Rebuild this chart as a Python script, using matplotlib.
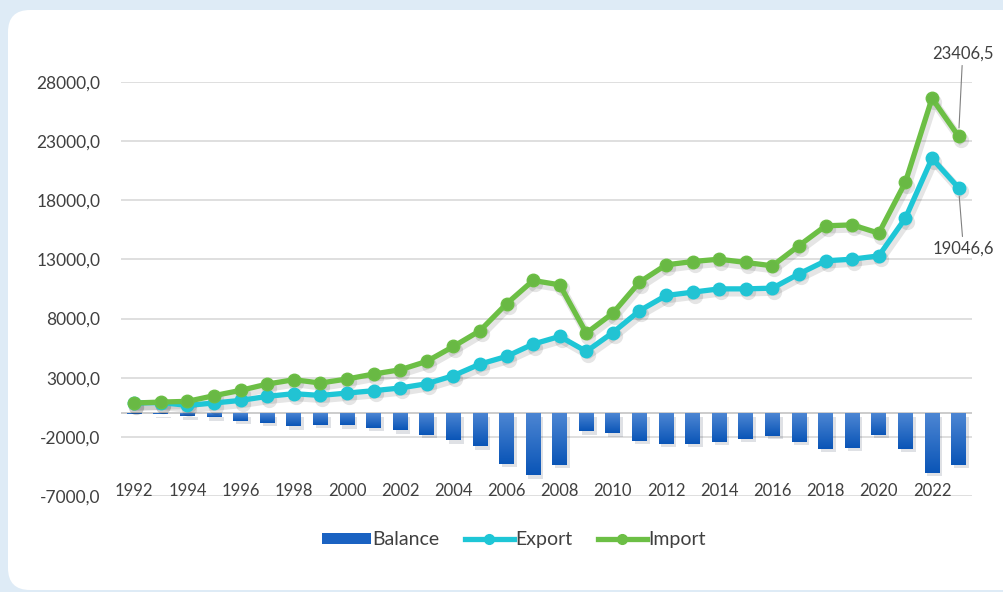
import numpy as np
import matplotlib
matplotlib.use("Agg")
import matplotlib.pyplot as plt
import matplotlib.patheffects as pe
from matplotlib.patches import FancyBboxPatch, Patch
from matplotlib.lines import Line2D
from matplotlib.transforms import offset_copy

years = list(range(1992, 2024))

export_vals = [860, 900, 660, 860, 1080, 1420, 1650, 1500, 1700, 1900,
               2130, 2490, 3170, 4150, 4800, 5840, 6490, 5220, 6820, 8660,
               9950, 10230, 10510, 10510, 10570, 11780, 12880, 13020, 13300, 16490,
               21550, 19046.6]

import_vals = [860, 940, 1000, 1480, 1930, 2460, 2830, 2550, 2890, 3310,
               3670, 4380, 5640, 6970, 9250, 11220, 10850, 6770, 8460, 11080,
               12540, 12820, 13020, 12740, 12460, 14170, 15840, 15920, 15220, 19530,
               26620, 23406.5]

balance_vals = [-50, -80, -250, -330, -630, -830, -1110, -970, -1030, -1250,
                -1450, -1820, -2290, -2800, -4290, -5250, -4380, -1530, -1680, -2320,
                -2580, -2580, -2430, -2150, -1900, -2430, -3000, -2940, -1820, -3000,
                -5050, -4360]

y_ticks = list(range(-7000, 28001, 5000))

plt.rcParams['font.family'] = ['Lato', 'DejaVu Sans']
txt_color = '#404040'

fig = plt.figure(figsize=(10.04, 5.92), dpi=100)
fig.patch.set_facecolor('#deebf6')
card = FancyBboxPatch((0.08, 0.02), 10.5, 5.80,
                      boxstyle="round,pad=0,rounding_size=0.22",
                      transform=fig.dpi_scale_trans, facecolor='white',
                      edgecolor='none', zorder=-5)
fig.patches.append(card)

ax = fig.add_axes([0.1205, 0.1622, 0.8475, 0.6993])
ax.set_facecolor('none')

x = np.arange(len(years))

# gridlines + zero line
for v in y_ticks:
    ax.axhline(v, color='#d9d9d9', lw=1.2, zorder=0)
ax.axhline(0, color='#c4c4c4', lw=1.2, zorder=0)

# balance bars with vertical gradient
bars = ax.bar(x, balance_vals, width=0.56, color='#1a62c2', zorder=2,
              path_effects=[pe.SimplePatchShadow(offset=(2, -2.5), alpha=0.13),
                            pe.Normal()])
grad = np.linspace(0, 1, 100).reshape(-1, 1)
cmap = matplotlib.colors.LinearSegmentedColormap.from_list('b', ['#0a55b7', '#4d86d3'])
for b in bars:
    x0, y0 = b.get_x(), b.get_y()
    w, h = b.get_width(), b.get_height()
    im = ax.imshow(grad, extent=[x0, x0 + w, y0 + h, y0], origin='lower',
                   aspect='auto', cmap=cmap, zorder=2.1)
    im.set_clip_path(b)

# soft drop shadows under the lines
sh_tr = offset_copy(ax.transData, fig=fig, x=2, y=-3.5, units='dots')
for vals in (export_vals, import_vals):
    ax.plot(x, vals, color='k', alpha=0.10, lw=6, marker='o', ms=11, mew=0,
            transform=sh_tr, zorder=3)

ax.plot(x, export_vals, color='#1ec6d6', lw=3.8, marker='o', ms=9,
        mfc='#22c3d3', mec='#1ec6d6', zorder=4)
ax.plot(x, import_vals, color='#6cbf45', lw=3.8, marker='o', ms=9,
        mfc='#69b944', mec='#6cbf45', zorder=5)

ax.set_xlim(-0.5, len(years) - 0.5)
ax.set_ylim(-7000, 28000)
ax.set_yticks(y_ticks)
ax.set_yticklabels([f"{v:.1f}".replace('.', ',') for v in y_ticks],
                   fontsize=12.5, color=txt_color)
ax.tick_params(axis='y', length=0, pad=15)
ax.set_xticks([])
for s in ax.spines.values():
    s.set_visible(False)

# year labels sit on the bottom gridline
for i, yr in enumerate(years):
    if yr % 2 == 0:
        ax.text(i, -7000, str(yr), ha='center', va='baseline', fontsize=12,
                color=txt_color, zorder=6)

# end labels
ax.annotate("23406,5", xy=(x[-1], import_vals[-1]), xytext=(3, 54),
            textcoords='offset points', ha='center', va='bottom', fontsize=12,
            color=txt_color, annotation_clip=False,
            arrowprops=dict(arrowstyle='-', color='#808080', lw=0.8,
                            shrinkA=1, shrinkB=6))
ax.annotate("19046,6", xy=(x[-1], export_vals[-1]), xytext=(3.5, -38),
            textcoords='offset points', ha='center', va='top', fontsize=12,
            color=txt_color, annotation_clip=False,
            arrowprops=dict(arrowstyle='-', color='#808080', lw=0.8,
                            shrinkA=1, shrinkB=6))

# legend
handles = [Patch(facecolor='#1a62c2', edgecolor='none', label='Balance'),
           Line2D([], [], color='#1ec6d6', lw=3.8, marker='o', ms=7, label='Export'),
           Line2D([], [], color='#6cbf45', lw=3.8, marker='o', ms=7, label='Import')]
leg = fig.legend(handles=handles, loc='center', bbox_to_anchor=(0.512, 0.088),
                 ncol=3, frameon=False, fontsize=14, handlelength=2.5,
                 handleheight=0.45, handletextpad=0.1, columnspacing=1.3)
for t in leg.get_texts():
    t.set_color(txt_color)

fig.savefig("out.png", dpi=100, facecolor=fig.get_facecolor())
